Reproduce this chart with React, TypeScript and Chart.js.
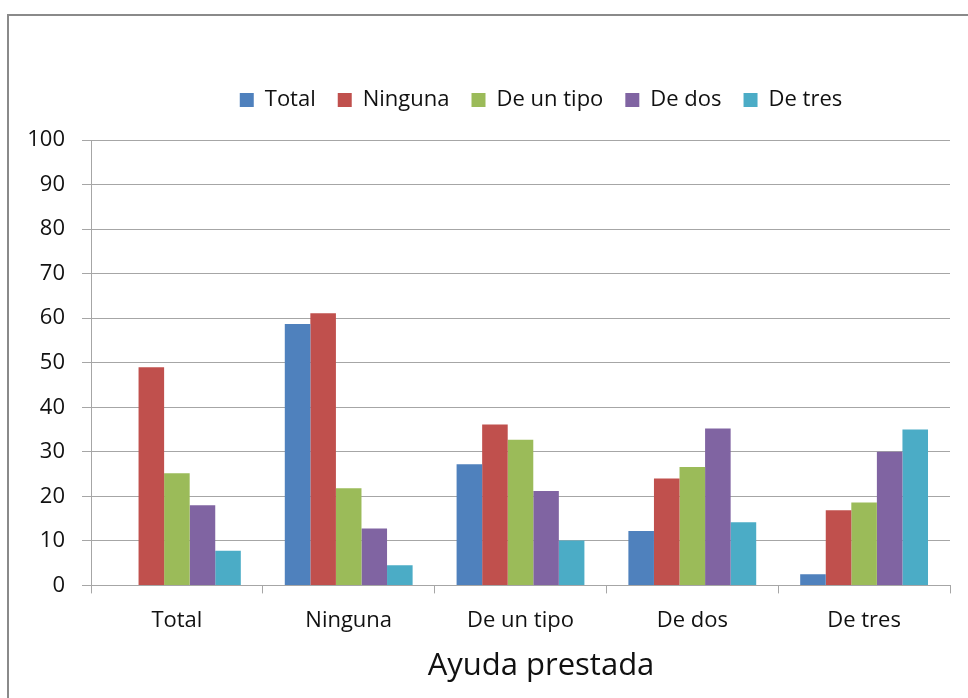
import React, { useEffect, useRef } from "react";
import { Chart, registerables } from "chart.js";

Chart.register(...registerables);

const categories = ["Total", "Ninguna", "De un tipo", "De dos", "De tres"];
const serieTotal = [null, 58.7, 27.2, 12.2, 2.5];
const serieNinguna = [49.0, 61.1, 36.1, 24.0, 16.9];
const serieDeUnTipo = [25.2, 21.8, 32.7, 26.6, 18.6];
const serieDeDos = [18.0, 12.8, 21.2, 35.2, 30.0];
const serieDeTres = [7.8, 4.5, 10.1, 14.2, 35.0];
const yTicks = [0, 10, 20, 30, 40, 50, 60, 70, 80, 90, 100];

const FONT = "'Open Sans', 'DejaVu Sans', sans-serif";

export default function App() {
  const ref = useRef<HTMLCanvasElement | null>(null);
  useEffect(() => {
    if (!ref.current) return;
    const mk = (label: string, data: (number | null)[], color: string) => ({
      label,
      data,
      backgroundColor: color,
      borderWidth: 0,
      categoryPercentage: 0.744,
      barPercentage: 1.0,
      yAxisID: "y",
    });
    const chart = new Chart(ref.current, {
      type: "bar",
      data: {
        labels: categories,
        datasets: [
          mk("Total", serieTotal, "#4F81BD"),
          mk("Ninguna", serieNinguna, "#C0504D"),
          mk("De un tipo", serieDeUnTipo, "#9BBB59"),
          mk("De dos", serieDeDos, "#8064A2"),
          mk("De tres", serieDeTres, "#4BACC6"),
        ],
      },
      options: {
        animation: false,
        responsive: false,
        devicePixelRatio: 1,
        layout: { padding: { top: 51, bottom: 13, left: 0, right: 0 } },
        plugins: {
          legend: {
            position: "top",
            labels: {
              boxWidth: 14,
              boxHeight: 14,
              padding: 22,
              color: "#111",
              font: { family: FONT, size: 22 },
            },
          },
          subtitle: {
            display: true,
            position: "top",
            weight: 500,
            text: " ",
            font: { family: FONT, size: 1, lineHeight: 1 },
            padding: { top: 0, bottom: 18 },
          },
          title: {
            display: true,
            position: "bottom",
            text: "Ayuda prestada",
            color: "#111",
            font: { family: FONT, size: 31, weight: "normal" },
            padding: { top: 0, bottom: 0 },
          },
          tooltip: { enabled: false },
        },
        scales: {
          x: {
            grid: {
              display: true,
              drawOnChartArea: false,
              drawTicks: true,
              tickLength: 8,
              color: "#a6a6a6",
            },
            border: { display: true, color: "#a6a6a6", width: 1 },
            ticks: {
              color: "#111",
              font: { family: FONT, size: 22 },
              padding: 14,
              maxRotation: 0,
            },
          },
          y: {
            min: 0,
            max: 100,
            afterBuildTicks: (s: any) => {
              s.ticks = yTicks.map((v) => ({ value: v }));
            },
            afterFit: (s: any) => {
              s.width = 82;
            },
            grid: { color: "#a6a6a6", tickLength: 9, lineWidth: 1 },
            border: { display: true, color: "#a6a6a6", width: 1 },
            ticks: {
              color: "#111",
              font: { family: FONT, size: 22 },
              padding: 17,
            },
          },
          yRight: {
            position: "right",
            display: true,
            grid: { display: false, drawTicks: false },
            border: { display: false },
            ticks: { display: false },
            afterFit: (s: any) => {
              s.width = 123;
            },
          },
        },
      },
    } as any);
    return () => chart.destroy();
  }, []);

  return (
    <div
      style={{
        position: "absolute",
        left: 7,
        top: 14,
        width: 961,
        height: 684,
        overflow: "hidden",
        borderTop: "2px solid #8a8a8a",
        borderLeft: "2px solid #8a8a8a",
        background: "#fff",
      }}
    >
      <canvas ref={ref} width={1064} height={682} style={{ display: "block", width: 1064, height: 682 }} />
    </div>
  );
}
